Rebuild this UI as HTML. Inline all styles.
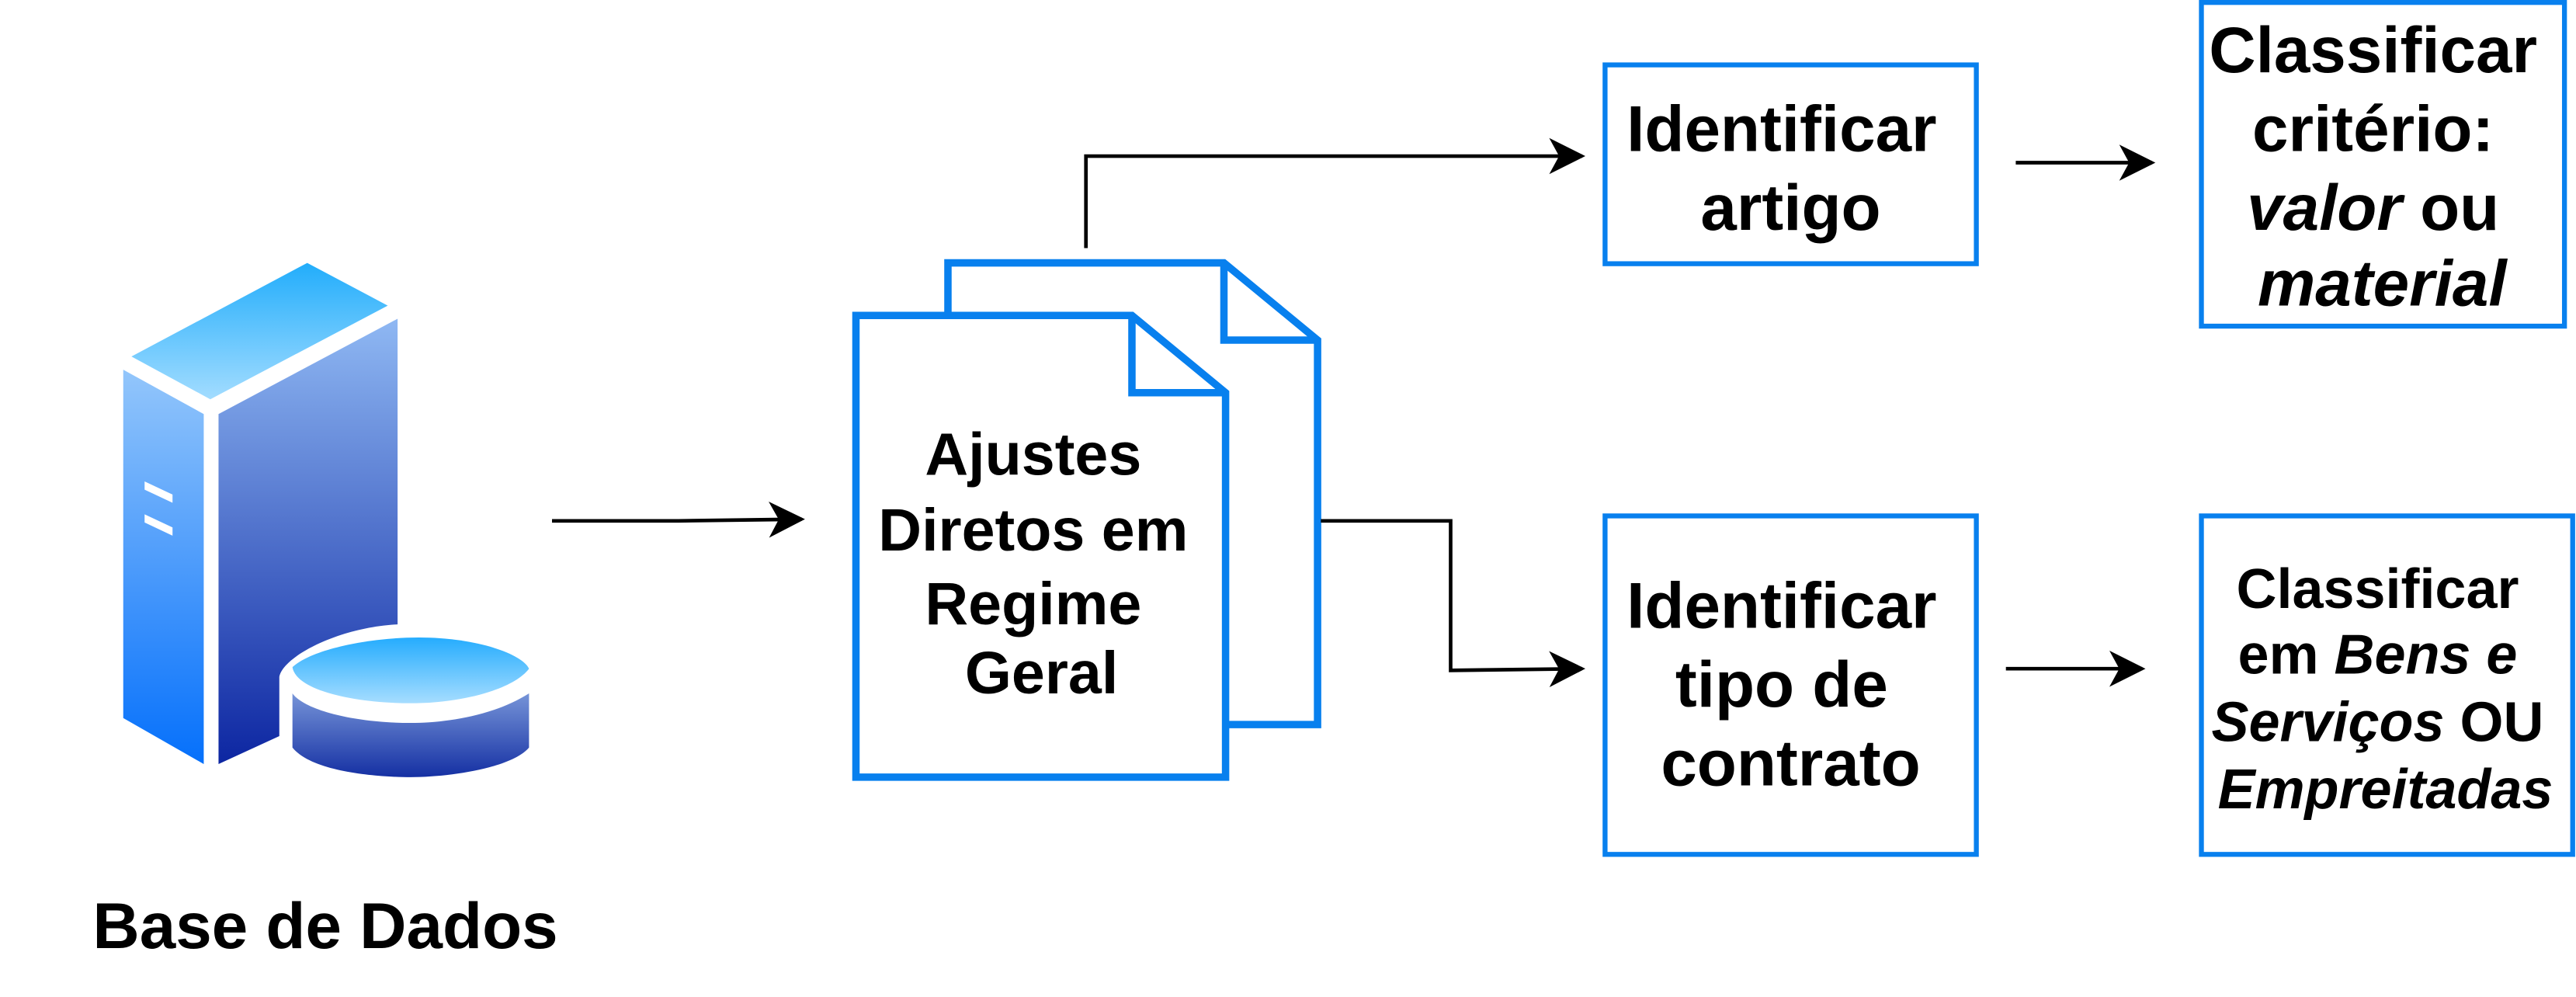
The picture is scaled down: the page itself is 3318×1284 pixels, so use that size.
<!DOCTYPE html>
<html><head><meta charset="utf-8"><style>
html,body{margin:0;padding:0;background:#fff;}
svg{display:block;}
text{font-family:"Liberation Sans",Arial,sans-serif;font-weight:bold;fill:#000;}
</style></head><body>
<svg width="3318" height="1284" viewBox="0 0 1568 606.8" xmlns="http://www.w3.org/2000/svg">
<defs>
<linearGradient id="gTop" x1="0" y1="0" x2="0" y2="1"><stop offset="0" stop-color="#22adfb"/><stop offset="1" stop-color="#a2dcff"/></linearGradient>
<linearGradient id="gLeft" x1="0" y1="0" x2="0" y2="1"><stop offset="0" stop-color="#93c6fb"/><stop offset="1" stop-color="#0570fb"/></linearGradient>
<linearGradient id="gRight" x1="0" y1="0" x2="0" y2="1"><stop offset="0" stop-color="#8fb8f3"/><stop offset="1" stop-color="#0a23a0"/></linearGradient>
<linearGradient id="gCylTop" x1="0" y1="0" x2="0" y2="1"><stop offset="0" stop-color="#25acfe"/><stop offset="1" stop-color="#a6ddff"/></linearGradient>
<linearGradient id="gCylSide" x1="0" y1="0" x2="0" y2="1"><stop offset="0" stop-color="#7694d8"/><stop offset="1" stop-color="#1530a3"/></linearGradient>
<marker id="ah" markerWidth="22" markerHeight="22" refX="20" refY="11" orient="auto" markerUnits="userSpaceOnUse">
<path d="M0,0 L22,11 L0,22 L6,11 Z" fill="#000"/>
</marker>
</defs>

<!-- server icon -->
<polygon points="80,217 187,160 236,186 128,243" fill="url(#gTop)"/>
<polygon points="75,225 124,252 124,465 75,437" fill="url(#gLeft)"/>
<polygon points="88,293 105,301 105,306 88,298" fill="#fff"/>
<polygon points="88,313 105,321 105,326 88,318" fill="#fff"/>
<polygon points="133,252 242,194 242,470 133,465" fill="url(#gRight)"/>
<!-- white backing for cylinder -->
<path d="M242,380 C205,382 172,400 170,412 L170,448 L133,465 L133,478 L330,478 L330,380 Z" fill="#fff"/>
<path d="M178,422 L178,455 C190,470 230,473 250,473 C275,473 312,467 322,455 L322,422 C300,436 270,440 250,440 C215,440 185,432 178,422 Z" fill="url(#gCylSide)"/>
<path d="M178,406 C190,395 225,388 255,388 C290,388 318,398 322,407 C312,420 280,428 250,428 C215,428 180,420 178,406 Z" fill="url(#gCylTop)"/>

<text x="198" y="577" font-size="39.5" text-anchor="middle">Base de Dados</text>

<!-- documents -->
<g stroke="#0880ee" stroke-width="4.5" stroke-linejoin="miter">
<path d="M577,160 L745,160 L802,207 L802,441 L577,441 Z" fill="#fff"/>
<path d="M745,160 L745,207 L802,207" fill="none"/>
<path d="M521,192 L689,192 L746,239 L746,473 L521,473 Z" fill="#fff"/>
<path d="M689,192 L689,239 L746,239" fill="none"/>
</g>
<text font-size="36.5" text-anchor="middle">
<tspan x="634" y="289">Ajustes</tspan>
<tspan x="634" y="335">Diretos em</tspan>
<tspan x="634" y="380">Regime</tspan>
<tspan x="634" y="422">Geral</tspan>
</text>

<!-- boxes -->
<g fill="#fff" stroke="#0880ee" stroke-width="3">
<rect x="977" y="39.5" width="226" height="121"/>
<rect x="1340" y="1.5" width="221" height="197"/>
<rect x="977" y="314" width="226" height="206"/>
<rect x="1340" y="314" width="226" height="206"/>
</g>
<text font-size="39.5" text-anchor="middle">
<tspan x="1090" y="92">Identificar</tspan>
<tspan x="1090" y="140">artigo</tspan>
</text>
<text font-size="39.5" text-anchor="middle">
<tspan x="1450" y="44">Classificar</tspan>
<tspan x="1450" y="92">critério:</tspan>
<tspan x="1450" y="140"><tspan font-style="italic">valor</tspan> ou</tspan>
<tspan x="1450" y="186" font-style="italic">material</tspan>
</text>
<text font-size="39.5" text-anchor="middle">
<tspan x="1090" y="382">Identificar</tspan>
<tspan x="1090" y="430">tipo de</tspan>
<tspan x="1090" y="478">contrato</tspan>
</text>
<text font-size="34" text-anchor="middle">
<tspan x="1452" y="370">Classificar</tspan>
<tspan x="1452" y="410">em <tspan font-style="italic">Bens e</tspan></tspan>
<tspan x="1452" y="451"><tspan font-style="italic">Serviços</tspan> OU</tspan>
<tspan x="1452" y="492" font-style="italic">Empreitadas</tspan>
</text>

<!-- connectors -->
<g fill="none" stroke="#000" stroke-width="2.2">
<path d="M336,317 L413,317 L488,316" marker-end="url(#ah)"/>
<path d="M661,151 L661,95 L963,95" marker-end="url(#ah)"/>
<path d="M804,317 L883,317 L883,408 L963,407" marker-end="url(#ah)"/>
<path d="M1227,99 L1310,99" marker-end="url(#ah)"/>
<path d="M1221,407 L1304,407" marker-end="url(#ah)"/>
</g>
</svg>
</body></html>
